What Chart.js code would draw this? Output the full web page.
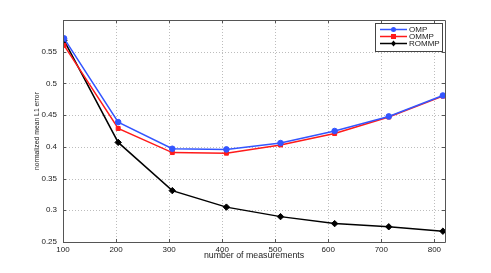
<!DOCTYPE html>
<html>
<head>
<meta charset="utf-8">
<script src="https://cdn.jsdelivr.net/npm/chart.js@4.4.0/dist/chart.umd.min.js"></script>
<style>
html,body{margin:0;padding:0;background:#fff;}
#wrap{width:491px;height:273px;position:relative;}
</style>
</head>
<body>
<div id="wrap"><canvas id="c" width="491" height="273"></canvas></div>
<script>
const measurements = [102, 204, 306, 408, 510, 612, 714, 816];
const ompValues   = [0.571, 0.439, 0.397, 0.396, 0.406, 0.425, 0.448, 0.481];
const ommpValues  = [0.560, 0.429, 0.391, 0.390, 0.403, 0.421, 0.447, 0.480];
const rommpValues = [0.568, 0.407, 0.331, 0.305, 0.290, 0.279, 0.274, 0.267];
const xTicks = [100, 200, 300, 400, 500, 600, 700, 800];
const yTicks = [0.25, 0.3, 0.35, 0.4, 0.45, 0.5, 0.55];
const seriesNames = ['OMP', 'OMMP', 'ROMMP'];

const FONT = 'Liberation Sans, Arial, Helvetica, sans-serif';
const toPts = arr => arr.map((v, i) => ({x: measurements[i], y: v}));

const dottedGrid = {
  id: 'dottedGrid',
  beforeDatasetsDraw(chart) {
    const ctx = chart.ctx, a = chart.chartArea;
    const xs = chart.scales.x, ys = chart.scales.y;
    ctx.save();
    ctx.strokeStyle = '#bdbdbd';
    ctx.lineWidth = 1;
    ctx.setLineDash([1, 2]);
    ctx.beginPath();
    xTicks.forEach(v => {
      const px = Math.round(xs.getPixelForValue(v)) + 0.5;
      ctx.moveTo(px, a.top); ctx.lineTo(px, a.bottom);
    });
    yTicks.forEach(v => {
      const py = Math.round(ys.getPixelForValue(v)) + 0.5;
      ctx.moveTo(a.left, py); ctx.lineTo(a.right, py);
    });
    ctx.stroke();
    ctx.restore();
  }
};

const matlabFrame = {
  id: 'matlabFrame',
  afterDraw(chart) {
    const ctx = chart.ctx, a = chart.chartArea;
    const xs = chart.scales.x, ys = chart.scales.y;
    ctx.save();
    ctx.strokeStyle = '#555';
    ctx.lineWidth = 1;
    ctx.beginPath();
    ctx.rect(Math.round(a.left) + 0.5, Math.round(a.top) + 0.5, Math.round(a.right - a.left), Math.round(a.bottom - a.top));
    ctx.stroke();
    const L = 3;
    ctx.beginPath();
    xTicks.forEach(v => {
      const px = Math.round(xs.getPixelForValue(v)) + 0.5;
      ctx.moveTo(px, a.bottom); ctx.lineTo(px, a.bottom - L);
      ctx.moveTo(px, a.top); ctx.lineTo(px, a.top + L);
    });
    yTicks.concat([0.6]).forEach(v => {
      const py = Math.round(ys.getPixelForValue(v)) + 0.5;
      ctx.moveTo(a.left, py); ctx.lineTo(a.left + L, py);
      ctx.moveTo(a.right, py); ctx.lineTo(a.right - L, py);
    });
    ctx.stroke();

    // legend
    const bx = 375.5, by = 23.5, bw = 67, bh = 28;
    ctx.fillStyle = '#fff';
    ctx.fillRect(bx, by, bw, bh);
    ctx.strokeStyle = '#444';
    ctx.strokeRect(bx, by, bw, bh);
    ctx.font = '8px ' + FONT;
    ctx.textBaseline = 'middle';
    chart.data.datasets.forEach((ds, i) => {
      const y = 29.5 + i * 7;
      ctx.strokeStyle = ds.borderColor;
      ctx.lineWidth = 1.5;
      ctx.beginPath(); ctx.moveTo(380, y); ctx.lineTo(407, y); ctx.stroke();
      ctx.fillStyle = ds.backgroundColor;
      const cx = 393.5, r = 2.5;
      ctx.beginPath();
      if (ds.pointStyle === 'circle') { ctx.arc(cx, y, r, 0, Math.PI * 2); }
      else if (ds.pointStyle === 'rect') { ctx.rect(cx - r, y - r, 2 * r, 2 * r); }
      else { ctx.moveTo(cx, y - r - 0.5); ctx.lineTo(cx + r, y); ctx.lineTo(cx, y + r + 0.5); ctx.lineTo(cx - r, y); ctx.closePath(); }
      ctx.fill();
      ctx.fillStyle = '#222';
      ctx.fillText(ds.label, 409, y + 0.5);
    });
    ctx.restore();
  }
};

new Chart(document.getElementById('c'), {
  type: 'line',
  data: {
    datasets: [
      {label: seriesNames[0], data: toPts(ompValues), borderColor: '#3355ff', backgroundColor: '#3355ff',
       pointStyle: 'circle', pointRadius: 2.8, borderWidth: 1.5, pointBorderWidth: 1},
      {label: seriesNames[1], data: toPts(ommpValues), borderColor: '#ff1a1a', backgroundColor: '#ff1a1a',
       pointStyle: 'rect', pointRadius: 2.8, borderWidth: 1.5, pointBorderWidth: 1},
      {label: seriesNames[2], data: toPts(rommpValues), borderColor: '#000', backgroundColor: '#000',
       pointStyle: 'rectRot', pointRadius: 3.2, borderWidth: 1.5, pointBorderWidth: 1}
    ]
  },
  options: {
    responsive: false,
    animation: false,
    devicePixelRatio: 1,
    layout: {padding: {top: 20, right: 46, left: 0, bottom: 0}},
    plugins: {legend: {display: false}, tooltip: {enabled: false}},
    elements: {line: {tension: 0}},
    scales: {
      x: {
        type: 'linear', min: 100, max: 820,
        afterBuildTicks: s => { s.ticks = xTicks.map(v => ({value: v})); },
        afterFit: s => { s.height = 31; },
        grid: {display: false, drawTicks: false},
        border: {display: false},
        ticks: {padding: 3, font: {size: 8, family: FONT}, color: '#222', maxRotation: 0, autoSkip: false},
        title: {display: true, text: 'number of measurements', font: {size: 8.8, family: FONT}, color: '#222', padding: {top: 0, bottom: 12}}
      },
      y: {
        type: 'linear', min: 0.25, max: 0.6,
        afterBuildTicks: s => { s.ticks = yTicks.map(v => ({value: v})); },
        afterFit: s => { s.width = 63; },
        grid: {display: false, drawTicks: false},
        border: {display: false},
        ticks: {padding: 6, font: {size: 8, family: FONT}, color: '#222', callback: v => String(+v.toFixed(2))},
        title: {display: true, text: 'normalized mean L1 error', font: {size: 6.8, family: FONT}, color: '#222', padding: {top: 33, bottom: 0}}
      }
    }
  },
  plugins: [dottedGrid, matlabFrame]
});
</script>
</body>
</html>
